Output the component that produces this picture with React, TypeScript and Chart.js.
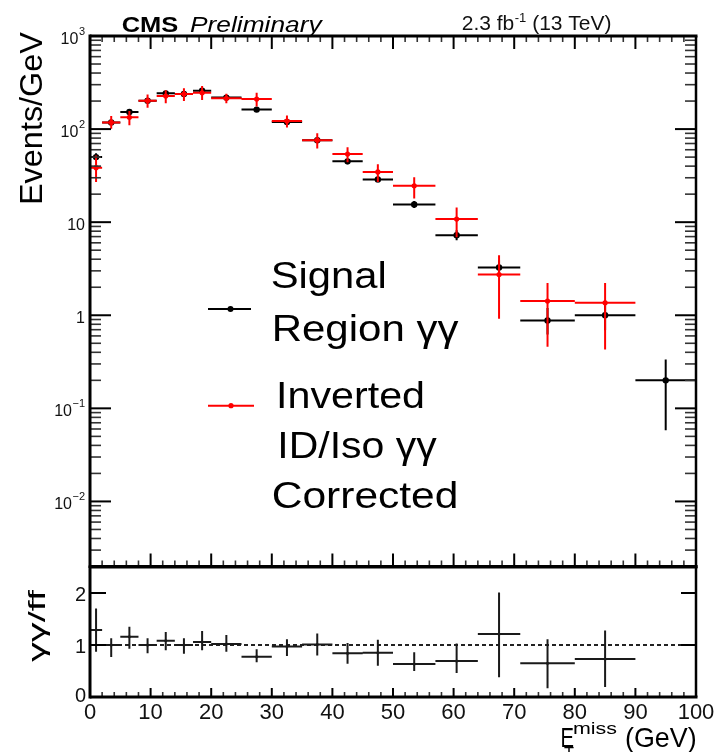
import React, { useEffect, useRef } from 'react';
import { Chart, registerables } from 'chart.js';
Chart.register(...registerables);

// ---------- data ----------
const binLow = [0, 2, 5, 8, 11, 14, 17, 20, 25, 30, 35, 40, 45, 50, 57, 64, 71, 80, 90];
const binHigh = [2, 5, 8, 11, 14, 17, 20, 25, 30, 35, 40, 45, 50, 57, 64, 71, 80, 90, 100];

const signalValues = [50, 118, 153, 202, 242, 238, 258, 218, 162, 119, 76, 45, 28.8, 15.5, 7.25, 3.26, 0.88, 1.0, 0.2];
const signalErrLow = [46, 113, 147, 196, 235, 231, 251, 212, 156, 114, 72, 42, 26.8, 14.2, 6.4, 2.7, 0.62, 0.69, 0.058];
const signalErrHigh = [55, 123, 159, 208, 249, 245, 265, 224, 168, 124, 80, 48, 30.9, 16.9, 8.2, 3.9, 1.2, 1.45, 0.334];

const invertedValues = [38.5, 118, 134, 202, 226, 238, 245, 214, 210, 122, 76, 54, 34.7, 24.6, 10.8, 2.74, 1.42, 1.36, null];
const invertedErrLow = [27, 101, 110, 170, 190, 200, 205, 190, 175, 104, 62, 44, 27, 18, 6.9, 0.92, 0.46, 0.43, null];
const invertedErrHigh = [52, 138, 156, 235, 262, 275, 290, 240, 245, 140, 90, 64, 42, 30.3, 14.4, 4.4, 2.22, 2.22, null];

const ratioValues = [1.29, 1.0, 1.16, 1.0, 1.08, 1.0, 1.06, 1.02, 0.775, 0.97, 1.01, 0.84, 0.85, 0.635, 0.69, 1.21, 0.65, 0.73, null];
const ratioErrLow = [0.87, 0.77, 0.93, 0.84, 0.9, 0.83, 0.9, 0.87, 0.67, 0.79, 0.8, 0.64, 0.6, 0.5, 0.46, 0.38, 0.17, 0.19, null];
const ratioErrHigh = [1.7, 1.13, 1.35, 1.13, 1.25, 1.13, 1.27, 1.19, 0.92, 1.11, 1.22, 1.04, 1.1, 0.86, 1.03, 2.01, 1.11, 1.28, null];

const xTickValues = [0, 10, 20, 30, 40, 50, 60, 70, 80, 90, 100];
const mainYTickValues = [0.01, 0.1, 1, 10, 100, 1000];
const mainYTickBase = ['10', '10', '1', '10', '10', '10'];
const mainYTickExp = ['\u22122', '\u22121', '', '', '2', '3'];
const ratioYTickValues = [0, 1, 2];

const legendLabels = [['Signal', 'Region \u03b3\u03b3'], ['Inverted', 'ID/Iso \u03b3\u03b3', 'Corrected']];

// ---------- helpers ----------
const FONT = '"Liberation Sans", Arial, Helvetica, sans-serif';
const RED = '#ff0000';
const BLACK = '#000000';

type P = { x: number; y: number | null };

function hBarPoints(values: (number | null)[]): P[] {
  const pts: P[] = [];
  values.forEach((v, i) => {
    if (v === null) return;
    pts.push({ x: binLow[i], y: v }, { x: binHigh[i], y: v }, { x: binHigh[i], y: null });
  });
  return pts;
}
function vBarPoints(lo: (number | null)[], hi: (number | null)[]): P[] {
  const pts: P[] = [];
  lo.forEach((l, i) => {
    if (l === null) return;
    const c = (binLow[i] + binHigh[i]) / 2;
    pts.push({ x: c, y: l }, { x: c, y: hi[i] }, { x: c, y: null });
  });
  return pts;
}
function markerPoints(values: (number | null)[]): P[] {
  const pts: P[] = [];
  values.forEach((v, i) => {
    if (v === null) return;
    pts.push({ x: (binLow[i] + binHigh[i]) / 2, y: v });
  });
  return pts;
}

function fitText(ctx: CanvasRenderingContext2D, text: string, x: number, y: number, font: string, width: number, color = '#000') {
  ctx.save();
  ctx.font = font;
  ctx.fillStyle = color;
  ctx.textAlign = 'left';
  ctx.textBaseline = 'alphabetic';
  const w = ctx.measureText(text).width;
  ctx.translate(x, y);
  ctx.scale(width / w, 1);
  ctx.fillText(text, 0, 0);
  ctx.restore();
}

function seg(ctx: CanvasRenderingContext2D, x1: number, y1: number, x2: number, y2: number) {
  ctx.beginPath();
  ctx.moveTo(x1, y1);
  ctx.lineTo(x2, y2);
  ctx.stroke();
}

function lineDs(data: P[], color: string, order: number, width = 2) {
  return { data, showLine: true, borderColor: color, backgroundColor: color, borderWidth: width, pointRadius: 0, spanGaps: false, order };
}
function markerDs(data: P[], color: string, order: number, r: number) {
  return { data, showLine: false, borderWidth: 0, pointRadius: r, backgroundColor: color, borderColor: color, pointStyle: 'circle', order };
}

// ---------- decorations ----------
const mainDecor = {
  id: 'mainDecor',
  afterDraw(chart: any) {
    const { ctx, chartArea } = chart;
    const { left, right, top, bottom } = chartArea;
    const x = chart.scales.x;
    const y = chart.scales.y;
    ctx.save();
    // y ticks (log)
    for (let e = -3; e <= 3; e++) {
      for (let k = 1; k <= 9; k++) {
        const v = k * Math.pow(10, e);
        if (v < y.min * 0.999 || v > y.max * 1.001) continue;
        const py = y.getPixelForValue(v);
        const major = k === 1;
        ctx.strokeStyle = major ? '#000' : '#333';
        ctx.lineWidth = major ? 2 : 1.6;
        const len = major ? 21 : 11;
        seg(ctx, left, py, left + len, py);
        seg(ctx, right, py, right - len, py);
      }
    }
    // x ticks top/bottom
    for (let v = 0; v <= 100; v += 2) {
      const px = x.getPixelForValue(v);
      const major = v % 10 === 0;
      ctx.strokeStyle = major ? '#000' : '#333';
      ctx.lineWidth = major ? 2 : 1.6;
      const len = major ? 13 : 6;
      seg(ctx, px, bottom, px, bottom - len);
      seg(ctx, px, top, px, top + len);
    }
    // frame
    ctx.strokeStyle = '#000';
    ctx.lineWidth = 3;
    seg(ctx, left, top, right + 1.5, top);
    seg(ctx, left, top - 1.5, left, bottom + 1.5);
    seg(ctx, left, bottom, right + 1.5, bottom);
    ctx.lineWidth = 2.5;
    seg(ctx, right, top, right, bottom);

    // y labels
    ctx.fillStyle = '#111';
    mainYTickValues.forEach((v, i) => {
      const py = y.getPixelForValue(v);
      const exp = mainYTickExp[i];
      const base = mainYTickBase[i];
      ctx.font = '11px ' + FONT;
      const ew = exp ? ctx.measureText(exp).width : 0;
      ctx.font = '16px ' + FONT;
      const bw = ctx.measureText(base).width;
      const rightEdge = 85;
      ctx.textAlign = 'left';
      ctx.textBaseline = 'alphabetic';
      ctx.fillText(base, rightEdge - ew - bw - (exp ? 0.5 : 0), py + 8);
      if (exp) {
        ctx.font = '11px ' + FONT;
        ctx.fillText(exp, rightEdge - ew, py - 1);
      }
    });

    // Title texts
    fitText(ctx, 'CMS', 121.7, 31.5, 'bold 22px ' + FONT, 56.6);
    fitText(ctx, 'Preliminary', 190, 31.5, 'italic 22px ' + FONT, 131.7);
    ctx.fillStyle = '#111';
    ctx.font = '21px ' + FONT;
    ctx.textAlign = 'left';
    ctx.textBaseline = 'alphabetic';
    let tx = 461.7;
    ctx.fillText('2.3 fb', tx, 30);
    tx += ctx.measureText('2.3 fb').width;
    ctx.font = '13px ' + FONT;
    ctx.fillText('-1', tx + 0.5, 22);
    tx += ctx.measureText('-1').width + 0.5;
    ctx.font = '21px ' + FONT;
    ctx.fillText(' (13 TeV)', tx, 30);

    // y axis title
    ctx.save();
    ctx.translate(42, 205);
    ctx.rotate(-Math.PI / 2);
    fitText(ctx, 'Events/GeV', 0, 0, '32px ' + FONT, 173);
    ctx.restore();

    // legend
    ctx.lineWidth = 2;
    ctx.strokeStyle = BLACK;
    seg(ctx, 208, 309, 251, 309);
    ctx.fillStyle = BLACK;
    ctx.beginPath();
    ctx.arc(230.5, 309, 3, 0, Math.PI * 2);
    ctx.fill();
    ctx.strokeStyle = RED;
    seg(ctx, 208, 405.7, 254, 405.7);
    ctx.fillStyle = RED;
    ctx.beginPath();
    ctx.arc(231, 405.7, 2.6, 0, Math.PI * 2);
    ctx.fill();

    const lf = '37px ' + FONT;
    fitText(ctx, legendLabels[0][0], 270.7, 287.7, lf, 116);
    fitText(ctx, legendLabels[0][1], 271.7, 340.7, lf, 186.7);
    fitText(ctx, legendLabels[1][0], 276, 408.3, lf, 149);
    fitText(ctx, legendLabels[1][1], 277.3, 458.3, lf, 159.4);
    fitText(ctx, legendLabels[1][2], 271.7, 508.3, lf, 186.7);
    ctx.restore();
  },
};

const ratioDecor = {
  id: 'ratioDecor',
  afterDraw(chart: any) {
    const { ctx, chartArea } = chart;
    const { left, right, top, bottom } = chartArea;
    const x = chart.scales.x;
    const y = chart.scales.y;
    ctx.save();
    // x ticks
    for (let v = 0; v <= 100; v += 2) {
      const px = x.getPixelForValue(v);
      const major = v % 10 === 0;
      ctx.strokeStyle = major ? '#000' : '#333';
      ctx.lineWidth = major ? 2 : 1.6;
      const len = major ? 9 : 5;
      seg(ctx, px, bottom, px, bottom - len);
    }
    // y ticks
    ratioYTickValues.forEach((v) => {
      const py = y.getPixelForValue(v);
      ctx.strokeStyle = '#000';
      ctx.lineWidth = 2;
      seg(ctx, left, py, left + 16, py);
      seg(ctx, right, py, right - 15, py);
    });
    // frame
    ctx.strokeStyle = '#000';
    ctx.lineWidth = 3;
    seg(ctx, left, top - 1.5, left, bottom + 1.5);
    seg(ctx, left, bottom, right + 1.5, bottom);
    seg(ctx, left, top, right + 1.5, top);
    ctx.lineWidth = 2.5;
    seg(ctx, right, top, right, bottom);

    // labels
    ctx.fillStyle = '#111';
    ctx.font = '20px ' + FONT;
    ctx.textAlign = 'right';
    ctx.textBaseline = 'alphabetic';
    ratioYTickValues.forEach((v) => {
      const py = y.getPixelForValue(v);
      ctx.fillText(String(v), 86, py + (v === 0 ? 5 : 8));
    });
    ctx.font = '22px ' + FONT;
    ctx.textAlign = 'center';
    xTickValues.forEach((v) => {
      const px = x.getPixelForValue(v);
      ctx.fillText(String(v), px, 719);
    });

    // y title
    ctx.save();
    ctx.translate(45, 662);
    ctx.rotate(-Math.PI / 2);
    fitText(ctx, '\u03b3\u03b3/ff', 0, 0, '24px ' + FONT, 72);
    ctx.restore();

    // x title
    fitText(ctx, 'E', 560.5, 746.7, '28px ' + FONT, 13.5);
    fitText(ctx, 'miss', 573, 733.5, '17px ' + FONT, 44);
    fitText(ctx, 'T', 564, 759, '17px ' + FONT, 10);
    fitText(ctx, '(GeV)', 625, 746.7, '28px ' + FONT, 71.7);
    ctx.restore();
  },
};

export default function App() {
  const mainRef = useRef<HTMLCanvasElement>(null);
  const ratioRef = useRef<HTMLCanvasElement>(null);

  useEffect(() => {
    const common = {
      responsive: false,
      animation: false as const,
      events: [] as any[],
      plugins: { legend: { display: false }, tooltip: { enabled: false }, title: { display: false } },
      elements: { line: { tension: 0 } },
    };
    const main = new Chart(mainRef.current as HTMLCanvasElement, {
      type: 'scatter',
      data: {
        datasets: [
          lineDs(hBarPoints(invertedValues), RED, 0),
          lineDs(vBarPoints(invertedErrLow, invertedErrHigh), RED, 0),
          markerDs(markerPoints(invertedValues), RED, 0, 2.6),
          lineDs(hBarPoints(signalValues), BLACK, 1),
          lineDs(vBarPoints(signalErrLow, signalErrHigh), BLACK, 1),
          markerDs(markerPoints(signalValues), BLACK, 1, 3.2),
        ] as any,
      },
      options: {
        ...common,
        layout: { padding: { left: 90, top: 36, right: 22, bottom: 185.5 } },
        scales: {
          x: { type: 'linear', min: 0, max: 100, display: false },
          y: { type: 'logarithmic', min: 0.002, max: 1000, display: false },
        },
      } as any,
      plugins: [mainDecor],
    });
    const ratio = new Chart(ratioRef.current as HTMLCanvasElement, {
      type: 'scatter',
      data: {
        datasets: [
          lineDs(hBarPoints(ratioValues), '#1a1a1a', 0, 2),
          lineDs(vBarPoints(ratioErrLow, ratioErrHigh), '#1a1a1a', 0, 2),
          markerDs(markerPoints(ratioValues), '#1a1a1a', 0, 1.5),
          {
            data: [{ x: 0, y: 1 }, { x: 100, y: 1 }],
            showLine: true,
            borderColor: '#222',
            borderWidth: 2,
            borderDash: [4, 3],
            pointRadius: 0,
            order: 2,
          },
        ] as any,
      },
      options: {
        ...common,
        layout: { padding: { left: 90, top: 567, right: 22, bottom: 55 } },
        scales: {
          x: { type: 'linear', min: 0, max: 100, display: false },
          y: { type: 'linear', min: 0, max: 2.5, display: false },
        },
      } as any,
      plugins: [ratioDecor],
    });
    return () => {
      main.destroy();
      ratio.destroy();
    };
  }, []);

  const cstyle: React.CSSProperties = { position: 'absolute', left: 0, top: 0, width: 718, height: 752 };
  return (
    <div style={{ position: 'absolute', left: 0, top: 0, width: 718, height: 752, background: '#fff', overflow: 'hidden' }}>
      <canvas ref={mainRef} width={718} height={752} style={cstyle} />
      <canvas ref={ratioRef} width={718} height={752} style={cstyle} />
    </div>
  );
}
